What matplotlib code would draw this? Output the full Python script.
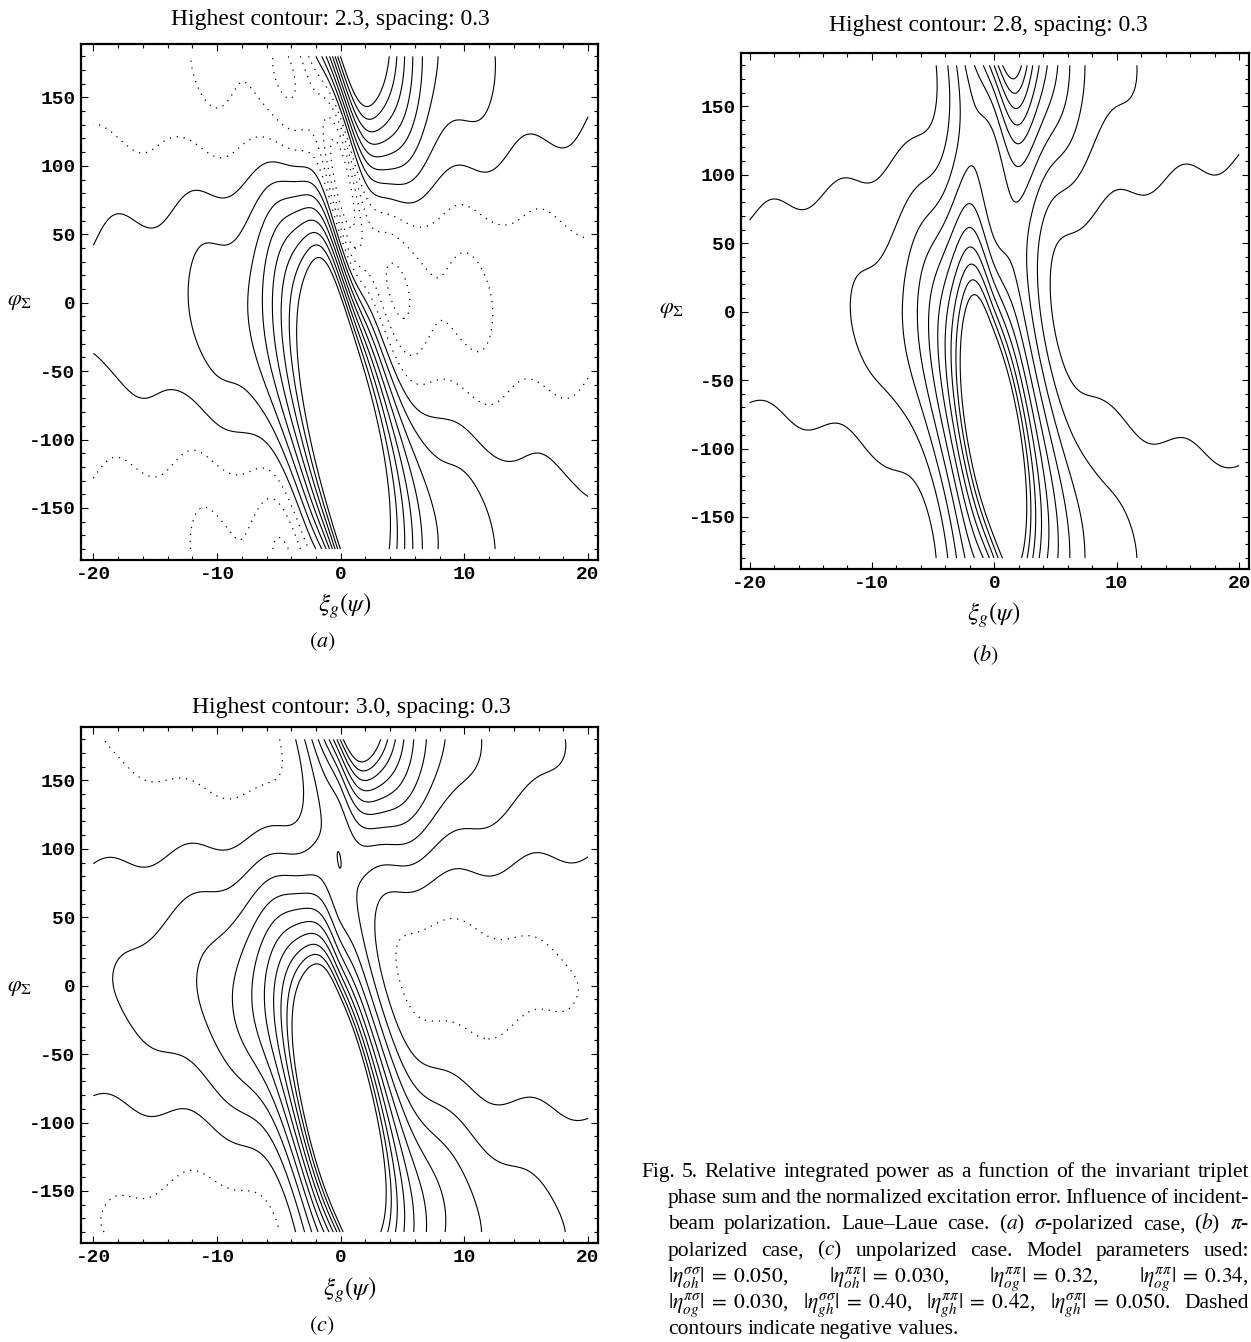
import numpy as np
import matplotlib
matplotlib.use("Agg")
import matplotlib.pyplot as plt
from matplotlib.ticker import MultipleLocator

plt.rcParams['font.family'] = ['Liberation Serif', 'DejaVu Serif']
plt.rcParams['mathtext.fontset'] = 'stix'
plt.rcParams['axes.unicode_minus'] = False

panel_tags = ['a', 'b', 'c']
highest = [2.3, 2.8, 3.0]
spacing = 0.3

# points on the contour lines: level -> [(xi, phi), ...]
pts_a = {
    0.2: [(-19.9, 45.9), (-17.9, 56.8), (-15.2, 56.4), (-14.1, 61.7), (-11.7, 76.3), (-9.3, 72.7),
          (-8.0, 83.6), (-6.6, 98.2), (-5.3, 103.6), (-3.7, 98.2), (0, 59), (2.4, 0),
          (-19.9, -48), (-17.9, -62), (-16, -70), (-13.9, -70), (-12.2, -75), (-9.8, -97),
          (-8.2, -97), (-7.2, -95), (-6.0, -103),
          (5.5, 76), (8.0, 108), (11, 103), (13.4, 122), (15.8, 122), (19.8, 135),
          (6.9, -84), (9.3, -84), (10.8, -89), (15.3, -110), (19.9, -132), (-2.5, -180), (-2.2, 180)],
    -0.1: [(-19.9, 121.5), (-17.9, 116.5), (-16, 111), (-14.7, 113.5), (-12.5, 116.5), (-10.9, 111),
           (-9.6, 105), (-8.2, 108), (-6.6, 120), (-1.5, 91), (-0.2, 76),
           (5.4, 56.6), (9.4, 75), (11.8, 64), (15.8, 69), (19.8, 58),
           (5.4, -54), (8.6, -51), (11.8, -64), (15.3, -57), (19.9, -58),
           (-19.9, -123.6), (-17.9, -118.7), (-15.8, -124), (-12.3, -116.7), (-8.8, -129),
           (-6.9, -122.9), (-5.5, -124.8)],
    0.5: [(-12.3, 0), (-12.3, 30), (-11.5, 35), (-8.8, 39.8), (-7.2, 64), (-6.1, 86), (-5.0, 89.7),
          (-11.5, -34.7), (-9.6, -61.5), (-8.0, -65.2), (-6.6, -71.2), (-5.5, -83.4),
          (12.4, -180), (12.4, 180)],
    0.8: [(7.4, -180), (7.4, 180), (-7.5, 0)],
    2.3: [(-3.15, 26), (-4.0, 0), (-2.0, 0), (0, -20), (0, -180), (4.2, -180), (0.2, 180),
          (4.2, 180), (3, 150)],
    -1.8: [(0.3, 100)],
}
pts_b = {
    0.1: [(-20.2, 68), (-18.1, 77), (-15.7, 76), (-13.7, 85), (-12.7, 94), (-9.4, 94), (-8, 105),
          (-6.1, 132), (-4.7, 154), (-4.5, 180),
          (-20, -72.5), (-15.5, -92), (-12.2, -92), (-10.9, -105.5), (-8.2, -122), (-6.6, -128.6),
          (-4.6, -161.5), (-4.4, -180),
          (19.9, 117), (17.1, 109), (15.1, 107), (12.8, 95.6), (10.5, 89), (8.9, 92), (7.9, 82),
          (6.25, 59), (5.1, 0),
          (19.9, -115), (17.1, -105.5), (14.8, -99), (12.2, -92), (9.9, -69), (7.2, -64.3)],
    0.4: [(-12.3, 0), (12.2, 180), (12.2, -180), (3.9, 0), (-3.7, 180), (-3.6, -180)],
    0.7: [(-7.2, 0), (3.0, 0), (-3.1, 180), (-2.8, -180)],
    1.0: [(-5.9, 0), (2.3, 0), (-2.7, 180), (-2.3, -180), (-1.2, 95)],
    1.3: [(-5.1, 0), (1.8, 0), (-2.0, 77.5), (-1.7, -180), (2.0, 109)],
    1.6: [(-4.3, 0), (1.0, 0), (-2.0, 62.6), (2.0, 124), (-1.0, -180)],
    1.9: [(-3.6, 0), (0.5, 0), (-2.0, 49.5), (2.0, 135), (-0.5, -180)],
    2.2: [(-3.0, 0), (-0.3, 0), (-2.0, 38), (0.2, -180), (2.0, 148)],
    2.5: [(-2.3, 0), (-1.0, 0), (-1.9, 24.7), (2.0, 160)],
    2.8: [(-1.7, 13), (2.0, 171)],
}
pts_c = {
    0.3: [(-20.2, 75.4), (-17.6, 82.7), (-15.8, 79), (-14.1, 83.9), (-12.3, 94.8), (-9.6, 91.2),
          (-8.2, 97.3), (-6.9, 107), (-5.0, 124), (-3.4, 129), (-2.8, 143.5),
          (-20, -77), (-17.8, -85), (-15.2, -93), (-13, -91.4), (-10.8, -104), (-9.2, -110.5),
          (-7.6, -118.4), (-5.7, -142), (-4.4, -167.6), (-3.65, -180),
          (19.9, 105.8), (18.0, 99.7), (15.3, 94.8), (12.6, 90), (11.6, 87.5), (9.9, 90), (8.3, 90),
          (7.3, 87.5), (6.2, 80), (4.6, 68), (2.4, 63),
          (20, -105.7), (17.1, -91.4), (14, -80.3), (10.8, -67.6), (8.3, -64.4), (5.7, -43.8)],
    0.6: [(-18.7, 7), (-18.2, 24), (-16.8, 34), (-14.1, 41), (-12.3, 68), (-9.8, 82.7), (-6.1, 94.8),
          (-3.9, 96), (-2.3, 94.8), (-0.2, 89),
          (-18.7, -24.8), (-16.8, -40.6), (-14.6, -48.6), (-12.7, -53.3), (-10.5, -72.4), (-8.9, -78.7),
          (-7.3, -88), (-5.7, -110.5),
          (18.7, 180), (18.5, 164), (17.7, 153), (15.9, 146), (14.8, 143.5), (13.7, 129), (12.1, 114),
          (10.5, 112), (8.6, 109.4), (7.3, 97.3),
          (18.7, -180), (18.7, -158), (16.5, -136), (14, -126), (10.8, -107), (7.6, -91.4)],
    0.9: [(-11.3, 0), (-10.8, 19.7), (-9.5, 27.6), (-8.3, 35.6), (-7, 61), (-5.7, 78.4), (-10.8, -21.6),
          (-9.5, -43.8), (-8.3, -53.3), (-7, -72.4), (-5.1, -104),
          (11.2, 180), (10.8, 161.8), (9.0, 153), (8.1, 143.5), (7.3, 121.6), (11.3, -180), (10.8, -142),
          (9.2, -120), (7, -104)],
    0.0: [(-18.7, 176), (-17.6, 157), (-16, 149.6), (-14.1, 152), (-12.3, 143.5), (-9.8, 131),
          (-8.5, 138.6), (-7.2, 151), (-4.9, 157), (-4.7, 180),
          (4.6, 24), (4.3, 14.5), (8.9, 48.6), (12.6, 29), (15.9, 31.6), (18.5, 14.5), (4.4, -2.5),
          (5.7, -21.6), (7.6, -24.8), (11.1, -34), (13.7, -18.4), (16.8, -15.2), (18.4, -2.5),
          (-17.8, -162.9), (-15.2, -164.4), (-11.4, -147), (-8.9, -158), (-6.0, -155)],
    3.0: [(-2.5, 19.7), (0, -180), (3.5, -180), (2.4, 159.6)],
}
all_pts = [pts_a, pts_b, pts_c]

# starting guesses and allowed ranges for the smooth surface through those points
# x0, s_theta, eps, R0, sR, pR, c2, Bc, sB, nB, b_far, xc, aR, offR, aT, offT, period
start = [
    [0.0, 3.2, 0.0, 2.6, 2.6, 0.55, -0.1, 2.0, 3.4, 2.6, 0.015, 0.0, 0.14, 10.9, 7.2, 9.2, 6.36],
    [0.0, 2.8, 0.0, 1.4, 2.2, 0.50, 0.0, 2.5, 3.2, 2.5, 0.02, 0.0, 0.10, 11.4, 6.8, 9.5, 6.04],
    [0.0, 2.8, 0.0, 2.1, 2.2, 0.47, -0.03, 2.6, 3.0, 2.1, 0.23, 0.0, 0.03, 11.1, 6.3, 9.1, 6.55],
]
lo_all = np.array([-3, 1.4, -0.5, 0.1, 2.0, 0.1, -0.6, 0.0, 0.8, 1.5, -0.5, -3, -0.4, 0, -20, 0, 3.5])
hi_all = np.array([3, 8.0, 0.5, 4.5, 25, 2.5, 0.6, 8, 25, 10, 1.0, 3, 0.4, 12, 20, 12, 10])
lo_a = lo_all.copy(); lo_a[1] = 3.0; lo_a[4] = 2.5
hi_a = hi_all.copy(); hi_a[3] = 3.2; hi_a[6] = 0.0
bounds = [(lo_a, hi_a), (lo_all, hi_all), (lo_all, hi_all)]


def surface(p, x, ph):
    x0, st, eps, R0, sR, pR, c2, bc, sb, nb, bf, xc, aR, offR, aT, offT, per = p
    env = x ** 2 / (x ** 2 + 9)
    theta = -90 - 90 * np.tanh((x - x0) / st)
    theta = theta + np.sign(x) * aT * env * np.cos(2 * np.pi * (np.abs(x) - offT) / per)
    s = np.radians(ph - theta)
    s = s - eps * (1 - np.cos(s))
    u = x - xc
    R = R0 / (1 + (u / sR) ** 2) ** pR
    R = R * (1 + aR * env * np.cos(2 * np.pi * (np.abs(x) - offR) / per))
    B = bf + bc / (1 + np.abs(u / sb) ** nb)
    return B + R * np.cos(s) + c2 * R ** 2 * np.cos(2 * s)


def make_loss(pts, lo, hi):
    X, P, L = [], [], []
    for lev, lst in pts.items():
        for (a, b) in lst:
            X.append(a); P.append(b); L.append(lev)
    X, P, L = np.array(X, float), np.array(P, float), np.array(L, float)
    wt = np.where(np.abs(X) < 7, 2.0, 1.0)

    def loss(p):
        q = np.clip(p, lo, hi)
        f = surface(q, X, P)
        fx = (surface(q, X + 0.02, P) - surface(q, X - 0.02, P)) / 0.04 / 12.4
        fp = (surface(q, X, P + 0.2) - surface(q, X, P - 0.2)) / 0.4 / 1.369
        g = np.maximum(np.hypot(fx, fp), 0.004)
        d = (f - L) / g
        pen = np.sum((np.maximum(p - hi, 0) + np.maximum(lo - p, 0)) ** 2) * 1e4
        return np.sum(wt * np.minimum(d ** 2, 1600)) + pen
    return loss


def nelder_mead(fun, x0, scale, n_iter):
    n = len(x0)
    S = np.vstack([x0] + [x0 + np.eye(n)[i] * scale[i] for i in range(n)])
    F = np.array([fun(v) for v in S])
    for _ in range(n_iter):
        o = np.argsort(F); S = S[o]; F = F[o]
        c = S[:-1].mean(0)
        xr = c + (c - S[-1]); fr = fun(xr)
        if fr < F[0]:
            xe = c + 2 * (c - S[-1]); fe = fun(xe)
            if fe < fr:
                S[-1], F[-1] = xe, fe
            else:
                S[-1], F[-1] = xr, fr
        elif fr < F[-2]:
            S[-1], F[-1] = xr, fr
        else:
            xk = c + 0.5 * (xr - c) if fr < F[-1] else c + 0.5 * (S[-1] - c)
            fk = fun(xk)
            if fk < min(fr, F[-1]):
                S[-1], F[-1] = xk, fk
            else:
                S[1:] = S[0] + 0.5 * (S[1:] - S[0])
                F[1:] = [fun(v) for v in S[1:]]
    return S[np.argmin(F)]


params = []
for i in range(3):
    lo, hi = bounds[i]
    loss = make_loss(all_pts[i], lo, hi)
    p = np.clip(np.array(start[i], float), lo, hi)
    for rep in range(5):
        p = nelder_mead(loss, p, np.maximum(np.abs(p) * 0.15, 0.05), 3000)
    params.append(np.clip(p, lo, hi))

W, H = 1251, 1342
# axes frames in pixels: left, right, top, bottom
frames = [(81, 598, 44, 560), (741, 1249, 53, 569), (81, 598, 727, 1243)]
title_pos = [(330, 20), (988, 25), (351, 708)]
xlabel_pos = [(345, 606), (994, 615), (350, 1290)]
ylabel_pos = [(20, 303), (672, 311), (20, 988)]
sub_pos = [(322, 642), (985, 655), (322, 1326)]
xlims = [(-21.0, 20.8), (-20.7, 20.8), (-21.0, 20.8)]

fig = plt.figure(figsize=(W / 100, H / 100), dpi=100)
xi = np.linspace(-20, 20, 801)
ph = np.linspace(-180, 180, 721)
XI, PH = np.meshgrid(xi, ph)

for i, tag in enumerate(panel_tags):
    l, r, t, b = frames[i]
    ax = fig.add_axes([l / W, 1 - b / H, (r - l) / W, (b - t) / H])
    Z = surface(params[i], XI, PH)
    lev = highest[i] - spacing * np.arange(0, 40)
    lev = np.round(lev[lev > Z.min()], 3)
    pos = np.sort(lev[lev > 1e-6])
    neg = np.sort(lev[lev <= 1e-6])
    ax.contour(XI, PH, Z, levels=pos, colors='k', linewidths=0.8,
               linestyles='solid')
    if len(neg):
        cn = ax.contour(XI, PH, Z, levels=neg, colors='k', linewidths=0.9,
                        linestyles='solid')
        cn.set_linestyle((0, (1.0, 4.6)))

    ax.set_xlim(*xlims[i])
    ax.set_ylim(-188, 189)
    xt = [-20, -10, 0, 10, 20]
    yt = [-150, -100, -50, 0, 50, 100, 150]
    ax.set_xticks(xt)
    ax.set_yticks(yt)
    ax.set_xticklabels([str(v) for v in xt], fontfamily='Liberation Mono',
                       fontweight='bold', fontsize=14)
    ax.set_yticklabels([str(v) for v in yt], fontfamily='Liberation Mono',
                       fontweight='bold', fontsize=14)
    ax.xaxis.set_minor_locator(MultipleLocator(2))
    ax.yaxis.set_minor_locator(MultipleLocator(10))
    ax.tick_params(which='both', direction='in', top=True, right=True,
                   width=0.8, pad=4)
    ax.tick_params(which='major', length=5)
    ax.tick_params(which='minor', length=3)
    for s in ax.spines.values():
        s.set_linewidth(1.6)

    tx, ty = title_pos[i]
    fig.text(tx / W, 1 - ty / H,
             'Highest contour: %.1f, spacing: %.1f' % (highest[i], spacing),
             fontsize=17, ha='center', va='center')
    lx, ly = xlabel_pos[i]
    fig.text(lx / W, 1 - ly / H, r'$\xi_{g}(\psi)$', fontsize=18,
             ha='center', va='center')
    yx, yy = ylabel_pos[i]
    fig.text(yx / W, 1 - yy / H, r'$\varphi_{\Sigma}$', fontsize=16,
             ha='center', va='center')
    sx, sy = sub_pos[i]
    fig.text(sx / W, 1 - sy / H, r'$(%s)$' % tag, fontsize=16,
             ha='center', va='center')

# caption, justified line by line
caption = [
    "Fig. 5. Relative integrated power as a function of the invariant triplet",
    "phase sum and the normalized excitation error. Influence of incident-",
    r"beam polarization. Laue–Laue case. ($a$) $\sigma$-polarized case, ($b$) $\pi$-",
    r"polarized case, ($c$) unpolarized case. Model parameters used:",
    r"$|\eta^{\sigma\sigma}_{oh}|\;=\;0.050$, $|\eta^{\pi\pi}_{oh}|\;=\;0.030$, "
    r"$|\eta^{\pi\pi}_{og}|\;=\;0.32$, $|\eta^{\pi\pi}_{og}|\;=\;0.34$,",
    r"$|\eta^{\pi\sigma}_{og}|\;=\;0.030$, $|\eta^{\sigma\sigma}_{gh}|\;=\;0.40$, "
    r"$|\eta^{\pi\pi}_{gh}|\;=\;0.42$, $|\eta^{\sigma\pi}_{gh}|\;=\;0.050$. Dashed",
    "contours indicate negative values.",
]
cap_x0, cap_x1, cap_indent = 641, 1249, 668
cap_y0, cap_dy = 1177, 26.2
cap_fs = 15.5

renderer = fig.canvas.get_renderer()
for k, line in enumerate(caption):
    tokens = line.split(' ')
    x0 = cap_x0 if k == 0 else cap_indent
    fs = cap_fs
    while True:
        texts = [fig.text(0, 0, tok, fontsize=fs, va='baseline', ha='left')
                 for tok in tokens]
        widths = [tt.get_window_extent(renderer).width for tt in texts]
        if sum(widths) + 3 * (len(tokens) - 1) <= cap_x1 - x0 or fs < 12:
            break
        for tt in texts:
            tt.remove()
        fs -= 0.25
    if k < len(caption) - 1:
        gap = (cap_x1 - x0 - sum(widths)) / (len(tokens) - 1)
    else:
        gap = 4.8
    y = cap_y0 + k * cap_dy
    x = x0
    for tt, w in zip(texts, widths):
        tt.set_position((x / W, 1 - y / H))
        x += w + gap

fig.savefig('out.png', dpi=100)
